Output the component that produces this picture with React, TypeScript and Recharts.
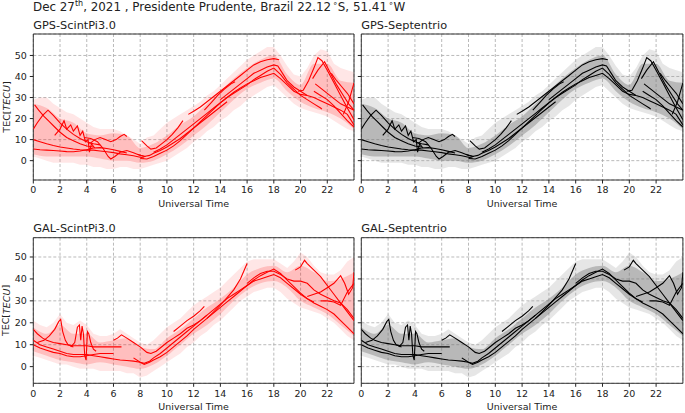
import React from 'react';
import { ComposedChart, Line, Area, XAxis, YAxis, CartesianGrid, Label, ReferenceArea } from 'recharts';

type Pt = [number, number];
type Band = [number, number, number];

const hourTicks = [0, 2, 4, 6, 8, 10, 12, 14, 16, 18, 20, 22];
const tecTicks = [0, 10, 20, 30, 40, 50];

// GPS satellite arcs (hour, TEC)
const gpsArcs: Pt[][] = [
  [[0.1, 26.5], [0.4, 24], [0.8, 21], [1.2, 18.5], [1.6, 16], [2, 13.5], [2.5, 11], [3, 9.5], [3.5, 8], [4, 7], [4.5, 6.5]],
  [[0, 15], [0.3, 18], [0.7, 21.5], [1.1, 24], [1.5, 21.5], [2, 18], [2.5, 15], [3, 12.5], [3.5, 10.5], [4, 9], [4.5, 8], [5, 7.5]],
  [[0, 10], [0.5, 9], [1, 8], [1.5, 7.2], [2, 6.5], [2.5, 6], [3, 5.5], [3.5, 5.2], [4, 5], [4.5, 5], [5, 4.6], [5.5, 4.2], [6, 3.8], [6.5, 3.2], [7, 2.8], [7.5, 2.3], [8, 1.6], [8.3, 1.2]],
  [[0, 5.5], [0.5, 5.2], [1, 5], [1.5, 4.8], [2, 4.6], [2.5, 4.3], [3, 4.2], [3.5, 4.6], [4, 5.2], [4.5, 6], [5, 6.2], [5.5, 5.8], [6, 5.2], [6.5, 4.4], [7, 3.6]],
  [[1.6, 12], [2, 15], [2.3, 19], [2.5, 15], [2.8, 17], [3, 14], [3.3, 16.5], [3.5, 12], [3.7, 14], [3.9, 9], [4.1, 10], [4.2, 4], [4.35, 8], [4.6, 6]],
  [[4.2, 8], [4.6, 10], [5, 11], [5.4, 10], [5.8, 9], [6.2, 10], [6.5, 11.5], [6.8, 12.5], [7, 11.5]],
  [[3.8, 11], [4.3, 10.5], [4.8, 9], [5.2, 6], [5.6, 2], [5.8, 0.8], [6.1, 2], [6.5, 4], [7, 4.8], [7.5, 3.8], [8, 2.5], [8.4, 2]],
  [[7.8, 3], [8.3, 2], [8.7, 2.5], [9, 3.5], [9.5, 4.8], [10, 6.5], [10.5, 8.5], [11, 10.5], [11.5, 13], [12, 15.5], [12.5, 18], [13, 20.5], [13.5, 23], [14, 25.5], [14.5, 28]],
  [[8.1, 9.5], [8.5, 7], [8.8, 5.5], [9.2, 6], [9.6, 8], [10, 10], [10.4, 12.5], [10.8, 15.5], [11.2, 19]],
  [[8, 1], [8.5, 0.8], [9, 2], [9.5, 3.5], [10, 5], [10.5, 7], [11, 9.5], [11.5, 12.5], [12, 15.5], [12.5, 18.5], [13, 21.5], [13.5, 24.5], [14, 27.5], [14.5, 30], [15, 32.5], [15.5, 34.5], [16, 36.5], [16.5, 38], [17, 39.5], [17.5, 40.5], [18, 41.5], [18.5, 39], [19, 36], [19.5, 33], [20, 31.5], [20.5, 31]],
  [[11.6, 22], [12, 23.5], [12.5, 25.5], [13, 28], [13.5, 30.5], [14, 33], [14.5, 35.5], [15, 38], [15.5, 40.5], [16, 43], [16.5, 45.5], [17, 47], [17.5, 48], [18, 48.5], [18.4, 48]],
  [[12.8, 24], [13.3, 27.5], [13.8, 31], [14.3, 34], [14.8, 36.5], [15.1, 37.5]],
  [[9, 4], [9.5, 5.5], [10, 7.5], [10.5, 10], [11, 12.5], [11.5, 15], [12, 17.5], [12.5, 20], [13, 22.5], [13.5, 25], [14, 27.5], [14.5, 30], [15, 32], [15.5, 34], [16, 36], [16.5, 38.5], [17, 40.5], [17.5, 42.5], [18, 44], [18.5, 41], [19, 37], [19.5, 34], [20, 31], [20.5, 29], [21, 27], [21.5, 25], [21.6, 24.5]],
  [[14, 29], [14.5, 31.5], [15, 34], [15.5, 36.5], [16, 39], [16.5, 41.5], [17, 43], [17.5, 44.5], [18, 45.5], [18.3, 45], [18.7, 41], [19, 38], [19.5, 35], [20, 33], [20.5, 31], [21, 30], [21.5, 28.5], [22, 27], [22.5, 25.5], [23, 24], [23.5, 22], [24, 17]],
  [[19.8, 33], [20.2, 33.5], [20.6, 38], [21, 44], [21.3, 49], [21.6, 47.5], [22, 43], [22.5, 37], [23, 31], [23.5, 25], [24, 19.5]],
  [[20.9, 39], [21.3, 43], [21.8, 47], [22.2, 42], [22.7, 36], [23.2, 31], [23.6, 27], [24, 24]],
  [[21.1, 36.5], [21.6, 34], [22, 32], [22.5, 29.5], [23, 27], [23.5, 25.5], [24, 24]],
  [[22.3, 41.5], [22.7, 38], [23.1, 35], [23.5, 32], [24, 27]],
  [[23.2, 22], [23.6, 28], [24, 37]],
  [[21, 33], [21.5, 31], [22, 29], [22.5, 26], [23, 22.5], [23.5, 19], [24, 16]],
];

// Galileo satellite arcs (hour, TEC)
const galArcs: Pt[][] = [
  [[0, 17], [0.3, 15], [0.7, 13], [1, 12], [1.5, 11], [2, 10.5], [2.5, 10], [3, 9.5], [3.5, 9.5], [4, 9.5], [4.5, 9], [5, 9], [5.5, 9], [6, 9], [6.6, 9]],
  [[0.3, 11], [0.8, 12], [1.2, 14], [1.6, 17], [1.9, 20.5], [2.05, 21.5], [2.2, 16], [2.4, 12], [2.6, 10], [3, 9]],
  [[2.8, 9], [3.1, 11], [3.3, 18], [3.45, 19], [3.55, 12], [3.65, 18.5], [3.75, 15], [3.85, 5], [3.95, 3], [4.05, 16], [4.15, 15], [4.3, 11], [4.5, 8], [4.7, 7]],
  [[0, 12], [0.5, 10], [1, 9], [1.5, 8], [2, 7], [2.5, 6], [3, 5.5], [3.5, 5.5], [4, 5.5], [4.5, 5], [5, 4.5], [5.5, 4], [6, 3.5], [6.5, 3], [7, 2.8], [7.5, 2.5], [8, 2], [8.3, 1.5], [8.7, 2.5], [9, 4], [9.5, 6], [10, 8.5], [10.5, 11], [11, 13.5], [11.5, 16], [12, 18.5], [12.5, 21], [13, 23.5]],
  [[0, 10], [0.5, 8.5], [1, 7.5], [1.5, 6.5], [2, 6], [2.5, 5], [3, 4.5], [3.5, 4.5], [4, 5], [4.5, 5.5], [5, 6], [5.5, 6], [6, 6]],
  [[6, 12], [6.3, 13], [6.6, 14.5], [7, 13], [7.5, 11], [8, 9], [8.5, 6.5], [8.8, 6], [9.2, 7], [9.5, 8.5], [10, 11], [10.5, 13], [11, 15], [11.5, 17.5], [12, 19], [12.5, 21], [13, 23.5], [13.5, 26], [14, 28.5], [14.5, 31], [15, 33], [15.5, 35], [16, 37], [16.5, 39], [17, 40], [17.5, 41], [18, 42], [18.5, 40.5], [19, 38], [19.5, 35.5], [20, 33], [20.5, 31], [21, 29.5]],
  [[10.5, 16], [11, 18.5], [11.5, 21], [12, 23], [12.5, 25.5], [12.8, 27.5]],
  [[13, 22], [13.5, 25], [14, 28], [14.5, 31.5], [15, 35], [15.5, 40], [16, 47]],
  [[7.5, 4], [8, 2], [8.3, 1], [8.7, 2], [9, 3], [9.5, 4.5], [10, 6.5], [10.5, 9], [11, 11.5], [11.5, 14], [12, 17], [12.5, 19.5], [13, 22], [13.5, 24.5], [14, 27], [14.5, 29.5], [15, 32], [15.5, 34.5], [16, 37], [16.5, 39.5], [17, 41.5], [17.5, 43], [18, 44.5], [18.5, 42.5], [19, 39.5], [19.5, 36.5], [20, 33.5], [20.5, 31], [21, 29], [21.5, 27.5], [22, 26], [22.5, 24], [23, 21], [23.5, 18], [24, 15]],
  [[16, 38], [16.5, 40.5], [17, 42.5], [17.5, 43.5], [18, 43.5], [18.5, 42], [19, 40], [19.5, 39], [20, 39], [20.5, 38], [21, 35], [21.5, 33], [22, 31.5], [22.5, 30], [23, 29], [23.5, 26], [24, 22]],
  [[19.6, 44], [20, 45.5], [20.3, 48.5], [20.5, 47], [21, 44], [21.5, 41], [22, 37], [22.5, 33], [23, 29], [23.5, 25], [24, 21]],
  [[20.5, 32], [21, 33], [21.5, 34], [22, 36], [22.5, 38], [23, 41.5], [23.3, 38], [23.6, 33], [23.9, 36], [24, 43]],
  [[21.5, 30], [22, 30], [22.5, 29.5], [23, 28], [23.5, 34], [24, 38]],
];

// spread of the raw (unfiltered) TEC: [hour, low, high]
const gpsBand: Band[] = [
  [0, 2, 29], [0.5, 1, 30], [1, 0, 30], [1.5, -1, 27], [2, -1, 25], [2.5, -1, 23], [3, -1, 22], [3.5, -2, 20], [4, -2, 18],
  [4.5, -3, 16], [5, -3, 15], [5.5, -4, 15], [6, -4, 15], [6.5, -3, 14], [7, -3, 12], [7.5, -4, 10], [8, -4, 8], [8.5, -3, 11],
  [9, -2, 12], [9.5, -1, 15], [10, 0, 18], [10.5, 2, 20], [11, 4, 22], [11.5, 6, 24], [12, 9, 26], [12.5, 11, 28], [13, 14, 31],
  [13.5, 16, 33], [14, 19, 36], [14.5, 21, 39], [15, 24, 42], [15.5, 26, 45], [16, 29, 48], [16.5, 31, 50], [17, 33, 52],
  [17.5, 35, 54], [18, 36, 54], [18.5, 33, 50], [19, 30, 45], [19.5, 27, 41], [20, 25, 40], [20.5, 24, 44], [21, 23, 50],
  [21.5, 22, 53], [22, 21, 52], [22.5, 19, 46], [23, 17, 44], [23.5, 15, 43], [24, 14, 42],
];

// denser core of the raw TEC spread
const gpsCore: Band[] = [
  [0, 3, 27], [1, 2, 25], [2, 2, 20], [3, 2, 18], [4, 2, 13], [5, 1, 12], [6, 0, 13], [7, 0, 12], [8, -1, 6], [9, 0, 8],
  [10, 3, 12], [11, 7, 17], [12, 12, 21], [13, 17, 27], [14, 23, 33], [15, 29, 39], [16, 34, 44], [17, 37, 48], [18, 39, 50],
  [19, 33, 41], [20, 28, 36], [21, 25, 46], [22, 23, 46], [23, 20, 38], [24, 15, 37],
];

const galBand: Band[] = [
  [0, 5, 21], [0.5, 4, 19], [1, 3, 18], [1.5, 2, 20], [2, 1, 24], [2.5, 1, 20], [3, 0, 19], [3.5, -1, 21], [4, -1, 19],
  [4.5, -1, 15], [5, -2, 14], [5.5, -2, 14], [6, -2, 15], [6.5, -2, 17], [7, -3, 15], [7.5, -3, 13], [8, -5, 11], [8.5, -4, 10],
  [9, -2, 12], [9.5, 0, 15], [10, 2, 18], [10.5, 4, 20], [11, 6, 22], [11.5, 9, 25], [12, 11, 28], [12.5, 14, 30], [13, 16, 32],
  [13.5, 19, 34], [14, 21, 36], [14.5, 24, 39], [15, 27, 42], [15.5, 30, 45], [16, 32, 48], [16.5, 34, 49], [17, 35, 49],
  [17.5, 36, 49], [18, 36, 49], [18.5, 34, 47], [19, 31, 45], [19.5, 29, 48], [20, 27, 52], [20.5, 26, 50], [21, 25, 46],
  [21.5, 24, 43], [22, 22, 42], [22.5, 20, 42], [23, 17, 44], [23.5, 14, 48], [24, 12, 50],
];

const galCore: Band[] = [
  [0, 7, 18], [1, 5, 15], [2, 3, 19], [3, 2, 15], [4, 1, 15], [5, 2, 11], [6, 1, 12], [7, 0, 13], [8, -1, 9], [9, 1, 8],
  [10, 5, 13], [11, 10, 17], [12, 15, 22], [13, 19, 27], [14, 24, 31], [15, 30, 36], [16, 35, 42], [17, 38, 45], [18, 39, 46],
  [19, 36, 43], [20, 30, 46], [21, 27, 43], [22, 24, 39], [23, 19, 40], [24, 14, 43],
];

const font = 'DejaVu Sans';
const tickStyle = { fontSize: 9.5, fill: '#222', fontFamily: font };

const tecLabel = (props: any) => {
  const vb = props.viewBox;
  const cx = vb.x + 6;
  const cy = vb.y + vb.height / 2;
  return (
    <text x={cx} y={cy} transform={`rotate(-90 ${cx} ${cy})`} textAnchor="middle" dominantBaseline="central"
      fontSize={9.5} fontFamily={font} fill="#222">
      TEC[<tspan fontStyle="italic">TECU</tspan>]
    </text>
  );
};

const timeLabel = (props: any) => {
  const vb = props.viewBox;
  return (
    <text x={vb.x + vb.width / 2} y={vb.y + 26.5} textAnchor="middle" fontSize={9.5} fontFamily={font} fill="#222">
      Universal Time
    </text>
  );
};

interface PanelProps {
  left: number; top: number; width: number; height: number;
  axisW: number; mTop: number; mRight: number;
  title: string; arcs: Pt[][]; band: Band[]; core: Band[];
  color: string; bandColor: string; coreColor: string; bandOpacity: number; coreOpacity: number;
  yDomain: [number, number]; showY: boolean;
}

function Panel(p: PanelProps) {
  const bandData = p.band.map(([t, lo, hi]) => ({ t, r: [lo, hi] }));
  const coreData = p.core.map(([t, lo, hi]) => ({ t, r: [lo, hi] }));
  return (
    <div style={{ position: 'absolute', left: p.left, top: p.top }}>
      <div style={{ position: 'absolute', left: p.axisW, top: p.mTop - 15.5, fontFamily: font, fontSize: 11.3, color: '#222', whiteSpace: 'nowrap', lineHeight: '13px' }}>
        {p.title}
      </div>
      <ComposedChart width={p.width} height={p.height} margin={{ top: p.mTop, right: p.mRight, bottom: 0, left: 0 }}>
        <CartesianGrid stroke="#a8a8a8" strokeWidth={0.8} strokeDasharray="3 2" />
        <XAxis dataKey="t" type="number" domain={[0, 24]} ticks={hourTicks} allowDataOverflow height={30}
          tick={tickStyle} tickSize={3.5} tickMargin={3} axisLine={false} tickLine={{ stroke: '#222' }}>
          <Label content={timeLabel} />
        </XAxis>
        <YAxis type="number" domain={p.yDomain} ticks={tecTicks} allowDataOverflow width={p.axisW}
          tick={tickStyle} tickSize={3.5} tickMargin={3} axisLine={false} tickLine={{ stroke: '#222' }}
          tickFormatter={(v: number) => (p.showY ? String(v) : '')}>
          {p.showY && <Label content={tecLabel} />}
        </YAxis>
        <Area data={bandData} dataKey="r" type="linear" stroke="none" fill={p.bandColor} fillOpacity={p.bandOpacity} isAnimationActive={false} />
        <Area data={coreData} dataKey="r" type="monotone" stroke="none" fill={p.coreColor} fillOpacity={p.coreOpacity} isAnimationActive={false} />
        {p.arcs.map((arc, i) => (
          <Line key={i} data={arc.map(([t, v]) => ({ t, v }))} dataKey="v" type="linear" stroke={p.color}
            strokeWidth={1.1} dot={false} activeDot={false} isAnimationActive={false} />
        ))}
        <ReferenceArea x1={0} x2={24} y1={p.yDomain[0]} y2={p.yDomain[1]} fill="none" stroke="#222" strokeWidth={0.9} ifOverflow="visible" />
      </ComposedChart>
    </div>
  );
}

export default function App() {
  const topY: [number, number] = [-9.2, 60.2];
  const botY: [number, number] = [-7.6, 58.8];
  const sup = { fontSize: 8, lineHeight: 0 };
  return (
    <div style={{ position: 'absolute', left: 0, top: 0, width: 685, height: 413, background: '#fff', overflow: 'hidden' }}>
      <div style={{ position: 'absolute', left: 33, top: 1, fontFamily: font, fontSize: 11.9, color: '#222', whiteSpace: 'nowrap', lineHeight: '13px' }}>
        Dec 27<sup style={sup}>th</sup>, 2021 , Presidente Prudente, Brazil 22.12<sup style={sup}>&thinsp;∘</sup>S, 51.41<sup style={sup}>&thinsp;∘</sup>W
      </div>
      <Panel left={0} top={0} width={360} height={210} axisW={33.3} mTop={34} mRight={6}
        title="GPS-ScintPi3.0" arcs={gpsArcs} band={gpsBand} core={gpsCore} color="#ff0000"
        bandColor="#ff4040" coreColor="#ff2020" bandOpacity={0.13} coreOpacity={0.2} yDomain={topY} showY />
      <Panel left={340} top={0} width={345} height={210} axisW={21.3} mTop={34} mRight={2.1}
        title="GPS-Septentrio" arcs={gpsArcs} band={gpsBand} core={gpsCore} color="#000000"
        bandColor="#9a9a9a" coreColor="#606060" bandOpacity={0.25} coreOpacity={0.34} yDomain={topY} showY={false} />
      <Panel left={0} top={210} width={360} height={203.3} axisW={33.3} mTop={27.7} mRight={6}
        title="GAL-ScintPi3.0" arcs={galArcs} band={galBand} core={galCore} color="#ff0000"
        bandColor="#ff4040" coreColor="#ff2020" bandOpacity={0.13} coreOpacity={0.2} yDomain={botY} showY />
      <Panel left={340} top={210} width={345} height={203.3} axisW={21.3} mTop={27.7} mRight={2.1}
        title="GAL-Septentrio" arcs={galArcs} band={galBand} core={galCore} color="#000000"
        bandColor="#9a9a9a" coreColor="#606060" bandOpacity={0.25} coreOpacity={0.34} yDomain={botY} showY={false} />
    </div>
  );
}
